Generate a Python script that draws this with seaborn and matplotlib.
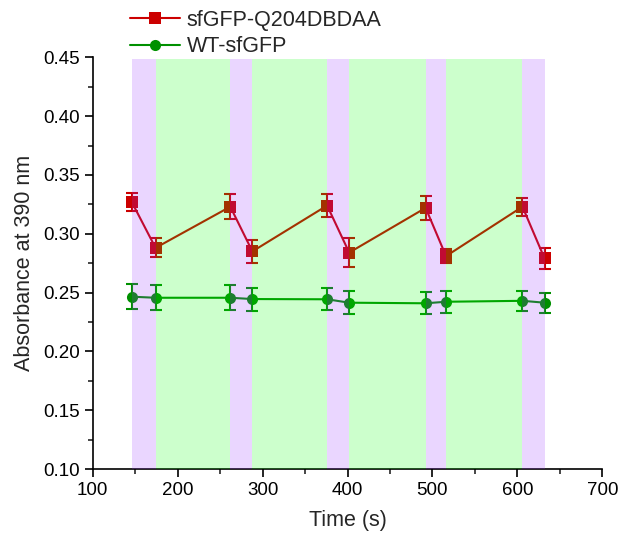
import numpy as np
import pandas as pd
import matplotlib
matplotlib.use("Agg")
import matplotlib.pyplot as plt
from matplotlib.lines import Line2D
from matplotlib.ticker import MultipleLocator
import seaborn as sns

time_s = [146, 174, 262, 288, 376, 402, 492, 516, 606, 632]
mut_vals = [0.327, 0.288, 0.323, 0.285, 0.324, 0.284, 0.322, 0.281, 0.323, 0.279]
mut_err = [0.008, 0.008, 0.0105, 0.0096, 0.010, 0.012, 0.0105, 0.006, 0.0075, 0.009]
wt_vals = [0.2465, 0.2456, 0.2456, 0.2445, 0.2443, 0.2414, 0.2409, 0.2422, 0.243, 0.2414]
wt_err = [0.0106, 0.0105, 0.0105, 0.0098, 0.0092, 0.0096, 0.0092, 0.0094, 0.0085, 0.0085]
purple_bands = [(146, 174), (262, 288), (376, 402), (492, 516), (606, 632)]
green_bands = [(174, 262), (288, 376), (402, 492), (516, 606)]
series_names = ["sfGFP-Q204DBDAA", "WT-sfGFP"]

sns.set_style("ticks")
plt.rcParams['font.family'] = ['Liberation Sans', 'DejaVu Sans']

fig = plt.figure(figsize=(6.18, 5.33), dpi=100)
ax = fig.add_axes([0.150, 0.120, 0.8246, 0.7725])

red = "#cc0000"
green = "#009000"

df = pd.DataFrame({
    "time": time_s * 2,
    "val": mut_vals + wt_vals,
    "series": [series_names[0]] * len(time_s) + [series_names[1]] * len(time_s),
})

sns.lineplot(data=df, x="time", y="val", hue="series", style="series",
             markers={series_names[0]: "s", series_names[1]: "o"}, dashes=False,
             palette={series_names[0]: red, series_names[1]: green},
             markersize=8, linewidth=1.5, markeredgewidth=0, ax=ax, legend=False, zorder=2)
ax.errorbar(time_s, mut_vals, yerr=mut_err, fmt="none", ecolor=red, elinewidth=1.5,
            capsize=4, capthick=1.5, zorder=2)
ax.errorbar(time_s, wt_vals, yerr=wt_err, fmt="none", ecolor=green, elinewidth=1.5,
            capsize=4, capthick=1.5, zorder=2)

for a, b in purple_bands:
    ax.axvspan(a, b, ymin=0, ymax=0.995, color="#9933ff", alpha=0.2, lw=0, zorder=3)
for a, b in green_bands:
    ax.axvspan(a, b, ymin=0, ymax=0.995, color="#00ff00", alpha=0.2, lw=0, zorder=3)

ax.set_xlim(100, 700)
ax.set_ylim(0.10, 0.45)
ax.xaxis.set_major_locator(MultipleLocator(100))
ax.xaxis.set_minor_locator(MultipleLocator(50))
ax.yaxis.set_major_locator(MultipleLocator(0.05))
ax.yaxis.set_minor_locator(MultipleLocator(0.025))
ax.yaxis.set_major_formatter(matplotlib.ticker.FormatStrFormatter("%.2f"))
ax.tick_params(axis="both", which="major", direction="out", length=6, width=1.2,
               labelsize=13.5, colors="black", pad=3)
ax.tick_params(axis="both", which="minor", direction="out", length=3.5, width=1.2)
for s in ["left", "bottom"]:
    ax.spines[s].set_linewidth(1.2)
    ax.spines[s].set_color("black")
sns.despine(ax=ax)

ax.set_xlabel("Time (s)", fontsize=15.5, labelpad=8)
ax.set_ylabel("Absorbance at 390 nm", fontsize=15.5, labelpad=6)

handles = [
    Line2D([], [], color=red, marker="s", markersize=8, markeredgewidth=0, lw=1.5),
    Line2D([], [], color=green, marker="o", markersize=8, markeredgewidth=0, lw=1.5),
]
fig.legend(handles, series_names, loc="upper left", bbox_to_anchor=(0.210, 0.982),
           frameon=False, fontsize=15.5, handlelength=2.35, handletextpad=0.3,
           labelspacing=0.26, borderaxespad=0, borderpad=0)

fig.savefig("out.png", dpi=100)
